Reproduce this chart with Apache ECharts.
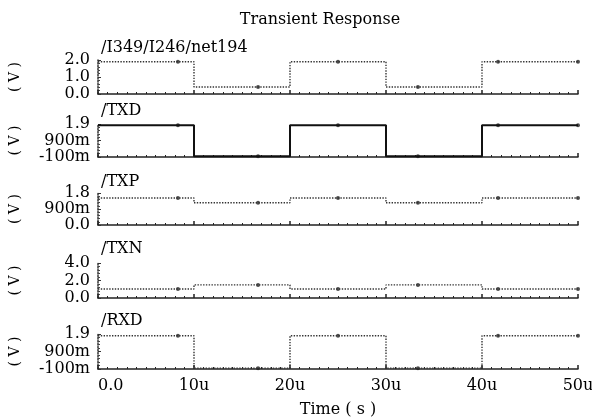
<!DOCTYPE html>
<html><head><meta charset="utf-8">
<script src="https://cdn.jsdelivr.net/npm/echarts@6/dist/echarts.min.js"></script>
<style>html,body{margin:0;padding:0;background:#fff}#c{width:592px;height:420px}</style>
</head><body><div id="c"></div>
<script>
// ---- data ----
const times = [0, 10, 20, 30, 40, 50];
const markerTimes = [8.33, 16.67, 25, 33.33, 41.67, 50];
const signalNames = ['/I349/I246/net194', '/TXD', '/TXP', '/TXN', '/RXD'];
const net194 = [1.9, 0.41, 1.9, 0.41, 1.9, 1.9];
const txd = [1.82, -0.06, 1.82, -0.06, 1.82, 1.82];
const txp = [1.52, 1.25, 1.52, 1.25, 1.52, 1.52];
const txn = [1.03, 1.5, 1.03, 1.5, 1.03, 1.03];
const rxd = [1.8, -0.05, 1.8, -0.05, 1.8, 1.8];
const xTickLabels = ['0.0', '10u', '20u', '30u', '40u', '50u'];
const yTicks = [[0, 1, 2], [-0.1, 0.9, 1.9], [0, 0.9, 1.8], [0, 2, 4], [-0.1, 0.9, 1.9]];
const yTickLabels = [['0.0', '1.0', '2.0'], ['-100m', '900m', '1.9'], ['0.0', '900m', '1.8'], ['0.0', '2.0', '4.0'], ['-100m', '900m', '1.9']];

// ---- layout ----
const signals = [net194, txd, txp, txn, rxd];
const panels = [[60, 94], [124, 157], [193, 225], [263, 298], [334, 369]];
const nameY = [49, 112, 183, 250, 322];
const solid = [false, true, false, false, false];
const FONT = 'DejaVu Serif';

const grid = [], xAxis = [], yAxis = [], series = [], graphic = [];
panels.forEach((p, i) => {
  grid.push({left: 98, right: 14, top: p[0], height: p[1] - p[0], containLabel: false, outerBoundsMode: 'none'});
  const last = i === panels.length - 1;
  xAxis.push({
    type: 'value', gridIndex: i, min: 0, max: 50, interval: 10,
    axisLine: {onZero: false, lineStyle: {color: '#222', width: 1.5}},
    axisTick: {show: true, inside: true, length: 4, lineStyle: {color: '#222', width: 1.5}},
    minorTick: {show: true, splitNumber: 10, length: 2, lineStyle: {color: '#222', width: 1}},
    splitLine: {show: false},
    axisLabel: {
      show: last, fontFamily: FONT, fontSize: 16, color: '#000', margin: 9,
      alignMinLabel: 'left',
      formatter: v => xTickLabels[Math.round(v / 10)]
    },
    name: last ? 'Time ( s )' : '', nameLocation: 'middle', nameGap: 33,
    nameTextStyle: {fontFamily: FONT, fontSize: 16, color: '#000'}
  });
  const tk = yTicks[i];
  yAxis.push({
    type: 'value', gridIndex: i, min: tk[0], max: tk[2], interval: tk[1] - tk[0],
    axisLine: {show: true, lineStyle: {color: '#333', width: 1.5, type: 'dotted'}},
    axisTick: {show: true, inside: true, length: 3, lineStyle: {color: '#333'}},
    minorTick: {show: true, splitNumber: 5, length: 2, lineStyle: {color: '#444'}},
    splitLine: {show: false},
    axisLabel: {
      fontFamily: FONT, fontSize: 16, color: '#000', margin: 8,
      formatter: v => {
        let best = 0;
        tk.forEach((t, k) => { if (Math.abs(t - v) < Math.abs(tk[best] - v)) best = k; });
        return yTickLabels[i][best];
      }
    },
    name: '( V )', nameLocation: 'middle', nameGap: 76, nameRotate: 90,
    nameTextStyle: {fontFamily: FONT, fontSize: 14, color: '#000'}
  });
  const vals = signals[i];
  series.push({
    type: 'line', xAxisIndex: i, yAxisIndex: i, step: 'end', showSymbol: false,
    data: times.map((t, k) => [t, vals[k]]),
    lineStyle: solid[i] ? {color: '#111', width: 2, type: 'solid'} : {color: '#333', width: 1.4, type: 'dotted'},
    silent: true
  });
  series.push({
    type: 'scatter', xAxisIndex: i, yAxisIndex: i, symbol: 'circle', symbolSize: 4,
    data: markerTimes.map((t, k) => [t, vals[k]]),
    itemStyle: {color: '#222'}, silent: true
  });
  graphic.push({
    type: 'text', left: 101, top: nameY[i] - 9,
    style: {text: signalNames[i], font: '16px "' + FONT + '"', fill: '#000'}
  });
});

const chart = echarts.init(document.getElementById('c'));
chart.setOption({
  animation: false,
  backgroundColor: '#fff',
  title: {
    text: 'Transient Response', left: 315, top: 7, textAlign: 'center',
    textStyle: {fontFamily: FONT, fontSize: 16, fontWeight: 'normal', color: '#000'}
  },
  grid, xAxis, yAxis, series, graphic
});
</script></body></html>
